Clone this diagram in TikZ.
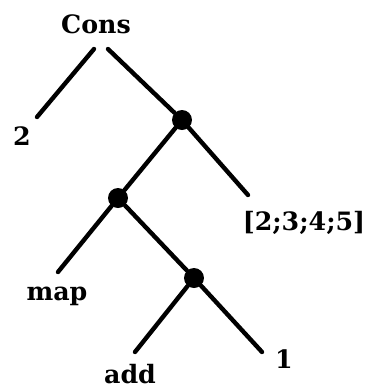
\documentclass[tikz,border=0pt]{standalone}
\usepackage{fontspec}
\usepackage{tikz}
\newfontfamily\treefont{DejaVu Serif}

\begin{document}
\begin{tikzpicture}[x=0.25mm,y=-0.25mm,
    lbl/.style={inner sep=0pt,anchor=base,font=\treefont\fontsize{18}{21}\selectfont\bfseries},
    app/.style={circle,fill=black,inner sep=0pt,minimum size=5mm},
    edge/.style={line width=1.1mm,line cap=round}]
    \useasboundingbox (0,0) rectangle (366,387);
    % Labels
    \node[lbl] (cons) at (96,33) {Cons};
    \node[lbl] (two) at (22,145) {2};
    \node[lbl] (list) at (304,230) {[2;3;4;5]};
    \node[lbl] (map) at (57,300) {map};
    \node[lbl] (add) at (130,383) {add};
    \node[lbl] (one) at (284,368) {1};
    % Applications
    \node[app] (app1) at (182,120) {};
    \node[app] (app2) at (118,198) {};
    \node[app] (app3) at (194,278) {};
    % Edges
    \draw[edge] ([shift={(-2,16)}]cons.base) -- ([shift={(15,-28)}]two.base);
    \draw[edge] ([shift={(12,16)}]cons.base) -- (app1);
    \draw[edge] (app1) -- ([shift={(-56,-35)}]list.base);
    \draw[edge] (app1) -- (app2);
    \draw[edge] (app2) -- ([shift={(1,-28)}]map.base);
    \draw[edge] (app2) -- (app3);
    \draw[edge] (app3) -- ([shift={(5,-31)}]add.base);
    \draw[edge] (app3) -- ([shift={(-22,-16)}]one.base);
\end{tikzpicture}
\end{document}
